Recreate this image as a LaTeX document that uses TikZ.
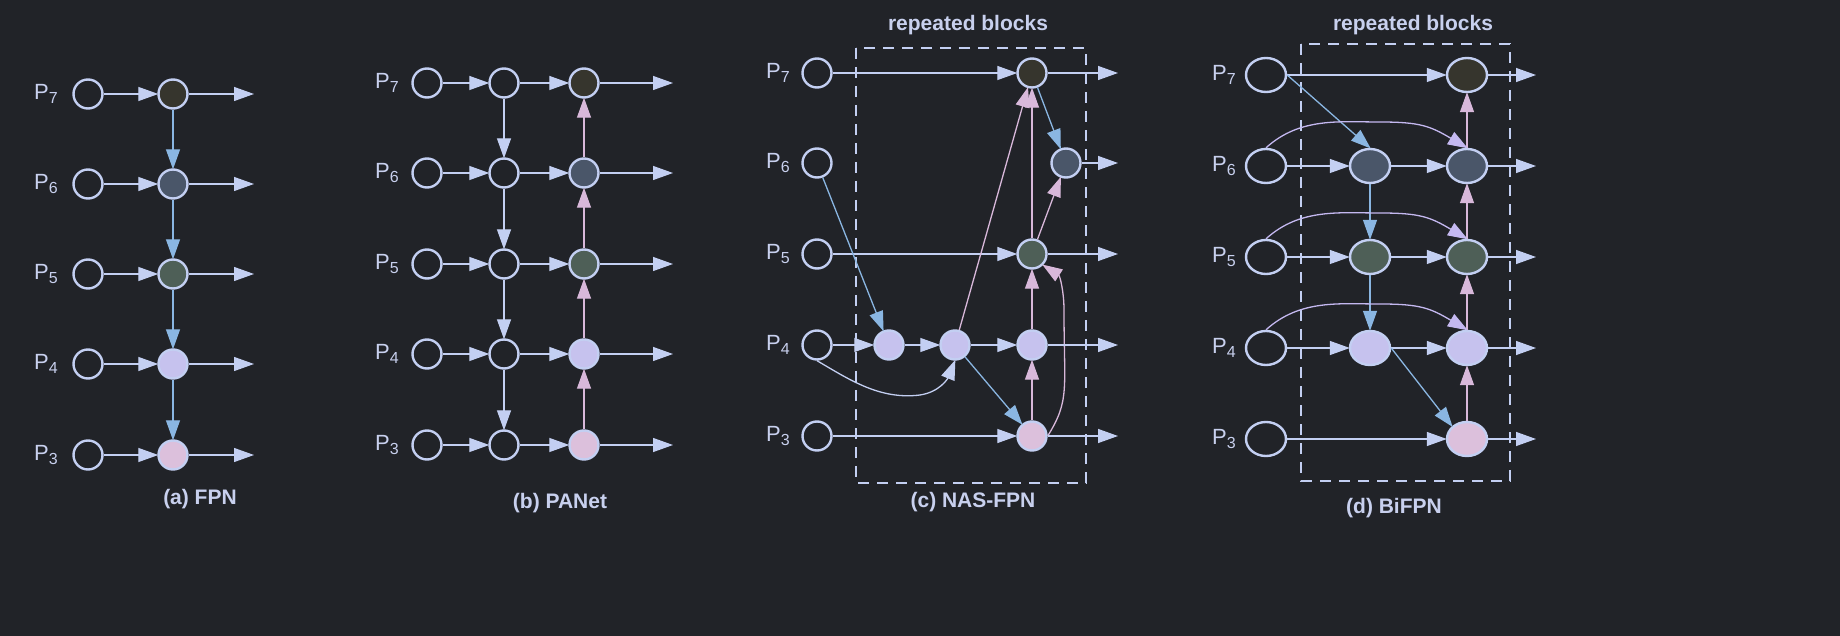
\documentclass[tikz,border=0pt]{standalone}
\usepackage{fontspec}
\setmainfont{Liberation Sans}
\usetikzlibrary{arrows.meta,shapes.geometric}
\definecolor{bg}{HTML}{212328}
\definecolor{edge}{HTML}{C3CFF2}
\definecolor{blu}{HTML}{8AB6E2}
\definecolor{pnk}{HTML}{D8B8DA}
\definecolor{lav}{HTML}{C4B8F0}
\definecolor{f7}{HTML}{36352D}
\definecolor{f6}{HTML}{4A5669}
\definecolor{f5}{HTML}{4E5F57}
\definecolor{f4}{HTML}{C6C2EE}
\definecolor{f3}{HTML}{DCC0DC}
\definecolor{txt}{HTML}{C8D0EE}
\newcommand{\lblP}[1]{P\raisebox{-0.35ex}{\fontsize{16}{18}\selectfont #1}}
\begin{document}
\begin{tikzpicture}[x=1pt,y=-1pt,
  nd/.style={circle,draw=edge,line width=2.4pt,minimum size=29pt,inner sep=0pt,fill=bg},
  el/.style={ellipse,draw=edge,line width=2.4pt,minimum width=40pt,minimum height=34pt,inner sep=0pt,fill=bg},
  a/.style={draw=edge,line width=1.3pt,-{Triangle[length=20pt,width=14pt]},shorten >=-1pt},
  ab/.style={a,draw=blu,-{Triangle[length=20pt,width=14pt,fill=blu]}},
  ap/.style={a,draw=pnk,-{Triangle[length=20pt,width=14pt,fill=pnk]}},
  al/.style={a,draw=lav,-{Triangle[length=20pt,width=14pt,fill=lav]}},
  lbl/.style={text=txt,font=\fontsize{22}{24}\selectfont},
  ttl/.style={text=txt,font=\bfseries\fontsize{21}{24}\selectfont},
  box/.style={draw=edge,line width=2.4pt,dash pattern=on 11pt off 8pt}]
\fill[bg] (0,0) rectangle (1840,636);
\useasboundingbox (0,0) rectangle (1840,636);
% ---------- (a) FPN
\foreach \r/\y/\f in {7/94/f7,6/184/f6,5/274/f5,4/364/f4,3/455/f3}{
  \node[lbl] (aL\r) at (46,\y) {\lblP{\r}};
  \node[nd] (aI\r) at (88,\y) {};
  \node[nd,fill=\f] (aO\r) at (173,\y) {};
  \coordinate (aE\r) at (253,\y);
  \draw[a] (aI\r) -- (aO\r);
  \draw[a] (aO\r) -- (aE\r);
}
\draw[ab] (aO7) -- (aO6); \draw[ab] (aO6) -- (aO5); \draw[ab] (aO5) -- (aO4); \draw[ab] (aO4) -- (aO3);
\node[ttl] (ta) at (200,499) {(a) FPN};
% ---------- (b) PANet
\foreach \r/\y/\f in {7/83/f7,6/173/f6,5/264/f5,4/354/f4,3/445/f3}{
  \node[lbl] (bL\r) at (387,\y) {\lblP{\r}};
  \node[nd] (bI\r) at (427,\y) {};
  \node[nd] (bM\r) at (504,\y) {};
  \node[nd,fill=\f] (bO\r) at (584,\y) {};
  \coordinate (bE\r) at (672,\y);
  \draw[a] (bI\r) -- (bM\r);
  \draw[a] (bM\r) -- (bO\r);
  \draw[a] (bO\r) -- (bE\r);
}
\draw[a] (bM7) -- (bM6); \draw[a] (bM6) -- (bM5); \draw[a] (bM5) -- (bM4); \draw[a] (bM4) -- (bM3);
\draw[ap] (bO3) -- (bO4); \draw[ap] (bO4) -- (bO5); \draw[ap] (bO5) -- (bO6); \draw[ap] (bO6) -- (bO7);
\node[ttl] (tb) at (560,503) {(b) PANet};
% ---------- (c) NAS-FPN
\draw[box] (856,48) rectangle (1086,483);
\node[ttl] (tc0) at (968,25) {repeated blocks};
\foreach \r/\y in {7/73,6/163,5/254,4/345,3/436}{
  \node[lbl] (cL\r) at (778,\y) {\lblP{\r}};
  \node[nd] (cI\r) at (817,\y) {};
  \coordinate (cE\r) at (1117,\y);
}
\node[nd,fill=f7] (cO7) at (1032,73) {};
\node[nd,fill=f6] (cO6) at (1066,163) {};
\node[nd,fill=f5] (cO5) at (1032,254) {};
\node[nd,fill=f4] (cA) at (889,345) {};
\node[nd,fill=f4] (cB) at (955,345) {};
\node[nd,fill=f4] (cO4) at (1032,345) {};
\node[nd,fill=f3] (cO3) at (1032,436) {};
\draw[a] (cI7) -- (cO7);
\draw[a] (cI5) -- (cO5);
\draw[a] (cI3) -- (cO3);
\draw[ab] (cI6) -- (cA);
\draw[a] (cI4) -- (cA);
\draw[a] (cA) -- (cB);
\draw[a] (cB) -- (cO4);
\draw[a] (cI4.south) .. controls (850,380) and (880,400) .. (920,395) .. controls (940,392) and (948,378) .. (cB.south);
\draw[ab] (cB) -- (cO3);
\draw[ap] (cB) -- (cO7);
\draw[ap] (cO3) -- (cO4);
\draw[ap] (cO4) -- (cO5);
\draw[ap] (cO5) -- (cO7);
\draw[ap] (cO5) -- (cO6);
\draw[ab] (cO7) -- (cO6);
\draw[ap] (cO3.east) .. controls (1070,400) and (1064,390) .. (1064,310) .. controls (1064,292) and (1060,276) .. (cO5.south east);
\foreach \r/\n in {7/cO7,6/cO6,5/cO5,4/cO4,3/cO3}{ \draw[a] (\n) -- (cE\r); }
\node[ttl] (tc) at (973,502) {(c) NAS-FPN};
% ---------- (d) BiFPN
\draw[box] (1301,44) rectangle (1510,481);
\node[ttl] (td0) at (1413,25) {repeated blocks};
\foreach \r/\y/\f in {7/75/f7,6/166/f6,5/257/f5,4/348/f4,3/439/f3}{
  \node[lbl] (dL\r) at (1224,\y) {\lblP{\r}};
  \node[el] (dI\r) at (1266,\y) {};
  \node[el,fill=\f] (dO\r) at (1467,\y) {};
  \coordinate (dE\r) at (1535,\y);
  \draw[a] (dO\r) -- (dE\r);
}
\foreach \r/\y/\f in {6/166/f6,5/257/f5,4/348/f4}{
  \node[el,fill=\f] (dM\r) at (1370,\y) {};
  \draw[a] (dI\r) -- (dM\r);
  \draw[a] (dM\r) -- (dO\r);
}
\draw[a] (dI7) -- (dO7);
\draw[a] (dI3) -- (dO3);
\draw[ab] (dI7.east) -- (dM6.north);
\draw[ab] (dM6) -- (dM5); \draw[ab] (dM5) -- (dM4);
\draw[ab] (dM4.east) -- (dO3.north west);
\draw[ap] (dO3) -- (dO4); \draw[ap] (dO4) -- (dO5); \draw[ap] (dO5) -- (dO6); \draw[ap] (dO6) -- (dO7);
\foreach \r/\t in {6/122,5/213,4/304}{
  \draw[al] (dI\r.north) .. controls (1300,\t-5) and (1340,\t) .. (1380,\t) .. controls (1420,\t) and (1430,\t+4) .. (dO\r.north);
}
\node[ttl] (td) at (1394,508) {(d) BiFPN};
\end{tikzpicture}
\end{document}
